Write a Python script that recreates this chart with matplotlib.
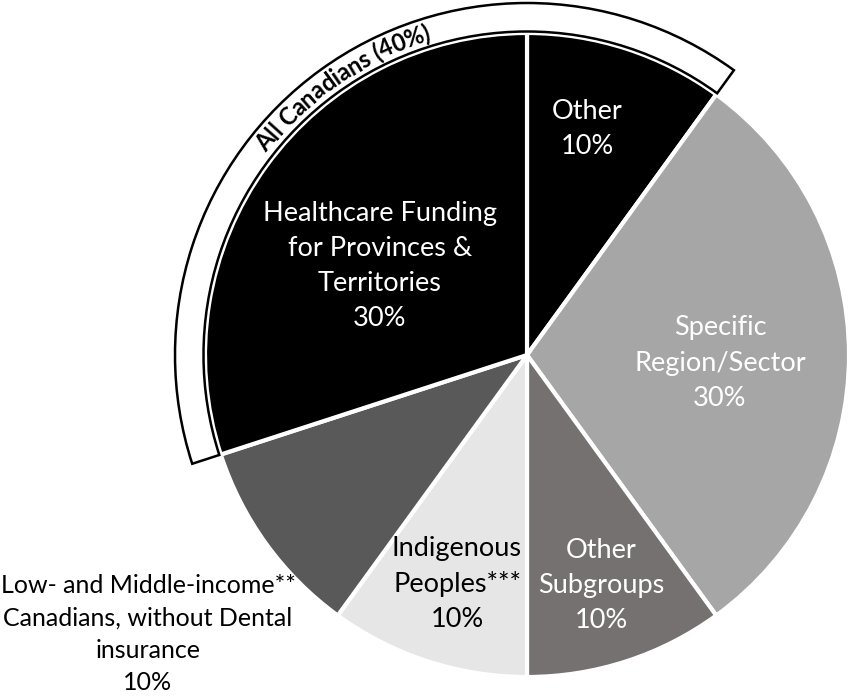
import numpy as np
import matplotlib
matplotlib.use("Agg")
import matplotlib.pyplot as plt
from matplotlib.patches import Wedge

plt.rcParams["font.family"] = ["Lato", "DejaVu Sans"]

# Share of funding by target group, drawn clockwise from 12 o'clock
labels = [
    "Other\n10%",
    "Specific\nRegion/Sector\n30%",
    "Other\nSubgroups\n10%",
    "Indigenous\nPeoples***\n10%",
    "Low- and Middle-income**\nCanadians, without Dental\ninsurance\n10%",
    "Healthcare Funding\nfor Provinces &\nTerritories\n30%",
]
shares = [10, 30, 10, 10, 10, 30]
slice_colors = ["#000000", "#a6a6a6", "#767171", "#e7e6e6", "#595959", "#000000"]
label_colors = ["white", "white", "white", "black", "black", "white"]

# slices grouped under the outer "All Canadians" band
group_name = "All Canadians (40%)"
group_members = [5, 0]

W, H = 851, 698
fig = plt.figure(figsize=(W / 100, H / 100), dpi=100)
ax = fig.add_axes([0, 0, 1, 1])

cx, cy, R = 527, 343, 322
wedges, _ = ax.pie(shares, colors=slice_colors, startangle=90, counterclock=False,
                   radius=R, center=(cx, cy),
                   wedgeprops=dict(edgecolor="white", linewidth=3))

ax.set_xlim(0, W)
ax.set_ylim(0, H)
ax.set_aspect("equal")
ax.axis("off")

# outer band around the "All Canadians" slices
total = sum(shares)
band_w = 30
theta_end = 90 - 360 * shares[group_members[1]] / total      # right edge of "Other"
theta_start = 90 + 360 * shares[group_members[0]] / total    # left edge of healthcare
band = Wedge((cx, cy), R + band_w, theta_end, theta_start, width=band_w - 1.5,
             facecolor="white", edgecolor="black", linewidth=1.8, zorder=3)
ax.add_patch(band)

# curved band title, laid out one character at a time
fig.canvas.draw()
renderer = fig.canvas.get_renderer()
band_font = dict(fontsize=17, fontweight="bold")
r_txt = R + band_w / 2
widths = []
for ch in group_name:
    t = ax.text(0, 0, ch if ch != " " else "a", **band_font)
    w = t.get_window_extent(renderer).width
    if ch == " ":
        w *= 0.5
    widths.append(w)
    t.remove()
span = np.degrees(sum(widths) / r_txt)
mid = 124.5
ang = mid + span / 2
for ch, w in zip(group_name, widths):
    a = ang - np.degrees(w / 2 / r_txt)
    x = cx + r_txt * np.cos(np.radians(a))
    y = cy + r_txt * np.sin(np.radians(a))
    ax.text(x, y, ch, rotation=a - 90, ha="center", va="center",
            rotation_mode="anchor", zorder=4, **band_font)
    ang -= np.degrees(w / r_txt)

# slice labels
label_pos = [(587, 569), (720, 335), (601, 113), (457, 114), (148, 64), (380, 432)]
label_size = [19.5, 19.5, 19.5, 19.5, 18, 19.5]
for text, (x, y), c, fs in zip(labels, label_pos, label_colors, label_size):
    ax.text(x, y, text, ha="center", va="center", color=c, fontsize=fs,
            linespacing=1.5, zorder=5)

fig.savefig("out.png", dpi=100)
